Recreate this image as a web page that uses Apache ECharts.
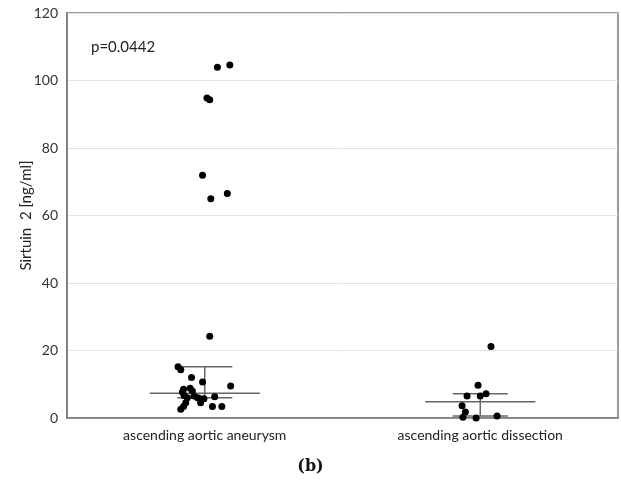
<!DOCTYPE html>
<html>
<head>
<meta charset="utf-8">
<script src="https://cdn.jsdelivr.net/npm/echarts@6/dist/echarts.min.js"></script>
<style>
  html, body { margin: 0; padding: 0; background: #fff; }
  #chart { width: 621px; height: 486px; }
</style>
</head>
<body>
<div id="chart"></div>
<script>
// groups on the x axis
const categories = ['ascending aortic aneurysm', 'ascending aortic dissection']
const yTicks = [0, 20, 40, 60, 80, 100, 120]

// Sirtuin 2 values (ng/ml), with the horizontal jitter of each dot
const aneurysmValues = [104.6, 103.9, 94.8, 94.3, 71.9, 66.5, 65.0, 24.2, 15.2, 14.3,
	12.0, 10.7, 9.5, 8.5, 7.7, 8.8, 8.0, 6.7, 6.0, 6.5,
	6.0, 5.7, 5.7, 4.5, 6.3, 4.5, 3.4, 2.6, 3.4, 3.4]
const aneurysmJitter = [0.091, 0.046, 0.008, 0.018, -0.008, 0.082, 0.022, 0.018, -0.097, -0.087,
	-0.048, -0.008, 0.094, -0.077, -0.081, -0.053, -0.045, -0.075, -0.063, -0.039,
	-0.026, -0.017, -0.003, -0.015, 0.036, -0.069, -0.077, -0.087, 0.028, 0.062]

const dissectionValues = [21.2, 9.7, 6.5, 6.5, 7.2, 3.6, 1.8, 0.2, 0.0, 0.6]
const dissectionJitter = [0.039, -0.008, -0.048, 0, 0.021, -0.066, -0.054, -0.063, -0.015, 0.061]

// median with interquartile range
const medians = [7.3, 4.85]
const q1 = [6.0, 0.6]
const q3 = [15.2, 7.2]

const pValueText = 'p=0.0442'

const myChart = echarts.init(document.getElementById('chart'))

function dots(values, jitter, idx) {
	return values.map((v, i) => [idx + 0.5 + jitter[i], v])
}

const option = {
	animation: false,
	grid: {
		left: 67,
		right: 3,
		top: 13,
		bottom: 68,
		show: true,
		borderColor: '#7a7a7a',
		borderWidth: 1.5
	},
	xAxis: [
		{
			type: 'value',
			min: 0,
			max: 2,
			show: false
		},
		{
			type: 'category',
			position: 'bottom',
			data: categories,
			axisLine: { lineStyle: { color: '#7a7a7a', width: 1.5 } },
			axisTick: { alignWithLabel: true, length: 3, lineStyle: { color: '#7a7a7a' } },
			axisLabel: {
				margin: 10,
				color: '#222',
				fontSize: 14,
				fontFamily: 'Lato'
			}
		},
		{
			type: 'category',
			position: 'top',
			data: categories,
			axisLine: { show: false },
			axisTick: { alignWithLabel: true, inside: true, length: 4, lineStyle: { color: '#7a7a7a' } },
			axisLabel: { show: false }
		}
	],
	yAxis: {
		type: 'value',
		min: yTicks[0],
		max: yTicks[yTicks.length - 1],
		interval: 20,
		name: 'Sirtuin  2 [ng/ml]',
		nameLocation: 'middle',
		nameGap: 33,
		nameMoveOverlap: false,
		nameTextStyle: { color: '#222', fontSize: 15, fontFamily: 'Lato' },
		axisLine: { show: true, lineStyle: { color: '#7a7a7a', width: 1.5 } },
		axisTick: { show: false },
		axisLabel: { color: '#333', fontSize: 14, margin: 9, fontFamily: 'Lato' },
		splitLine: { lineStyle: { color: '#e2e2e2', width: 1 } }
	},
	series: [
		{
			type: 'custom',
			xAxisIndex: 0,
			data: medians.map((m, i) => [i + 0.5, m, q1[i], q3[i]]),
			renderItem: function (params, api) {
				const x = api.value(0)
				const mid = api.coord([x, api.value(1)])
				const lo = api.coord([x, api.value(2)])
				const hi = api.coord([x, api.value(3)])
				const capHalf = api.size([0.1, 0])[0]
				const medHalf = api.size([0.2, 0])[0]
				const style = { stroke: '#666', lineWidth: 1.5 }
				const seg = (x1, y1, x2, y2) => ({
					type: 'line',
					shape: { x1: x1, y1: y1, x2: x2, y2: y2 },
					style: style
				})
				return {
					type: 'group',
					children: [
						seg(lo[0], lo[1], hi[0], hi[1]),
						seg(lo[0] - capHalf, lo[1], lo[0] + capHalf, lo[1]),
						seg(hi[0] - capHalf, hi[1], hi[0] + capHalf, hi[1]),
						seg(mid[0] - medHalf, mid[1], mid[0] + medHalf, mid[1])
					]
				}
			},
			z: 2
		},
		{
			type: 'scatter',
			xAxisIndex: 0,
			symbolSize: 7,
			itemStyle: { color: '#000', opacity: 1 },
			data: dots(aneurysmValues, aneurysmJitter, 0),
			z: 3
		},
		{
			type: 'scatter',
			xAxisIndex: 0,
			symbolSize: 7,
			itemStyle: { color: '#000', opacity: 1 },
			data: dots(dissectionValues, dissectionJitter, 1),
			z: 3
		}
	],
	graphic: [
		{
			type: 'text',
			left: 91,
			top: 40,
			style: { text: pValueText, fill: '#222', fontSize: 15, fontFamily: 'Lato' }
		},
		{
			type: 'text',
			left: 'center',
			top: 459,
			style: { text: '(b)', fill: '#111', fontSize: 16, fontWeight: 'bold', fontFamily: 'DejaVu Serif' }
		}
	]
}

myChart.setOption(option)
window.addEventListener('resize', function () {
	myChart.resize()
})
</script>
</body>
</html>
